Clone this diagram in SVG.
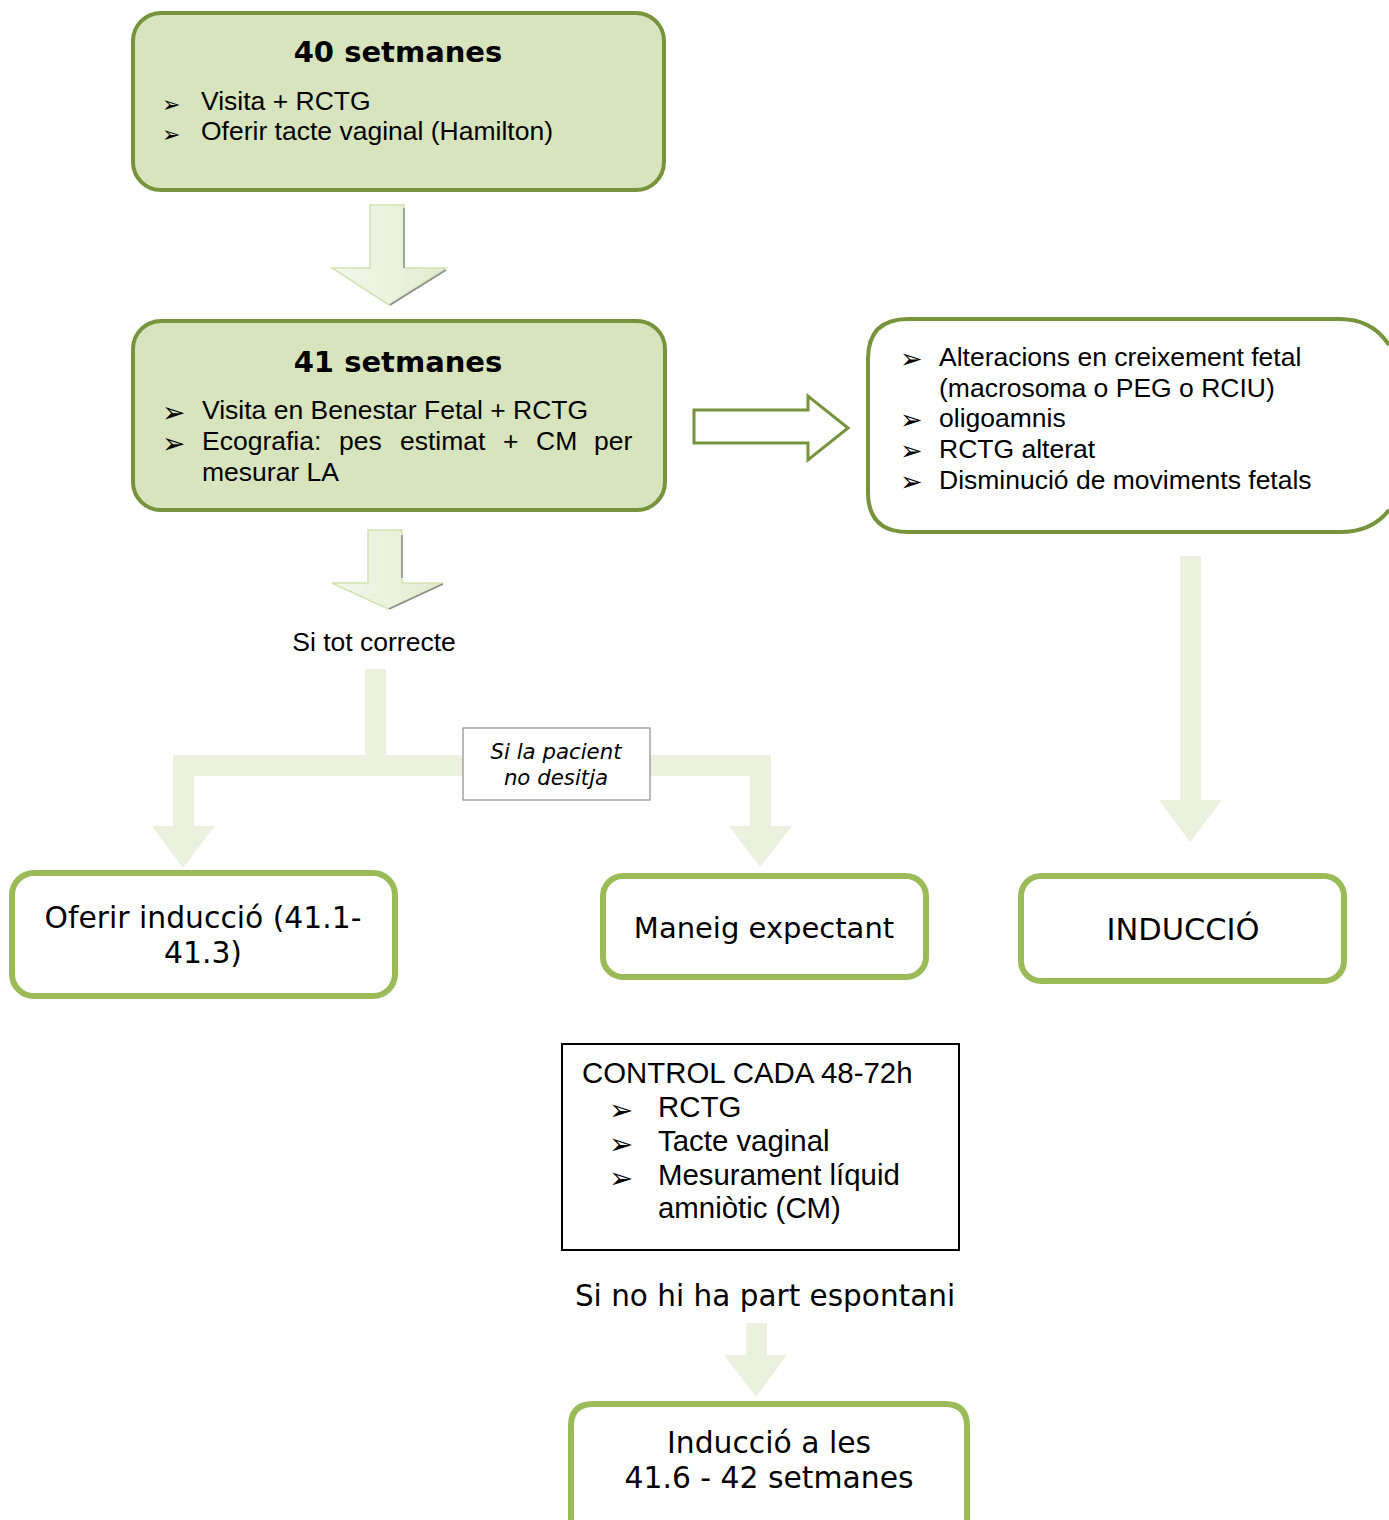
<svg xmlns="http://www.w3.org/2000/svg" width="1389" height="1520" viewBox="0 0 1389 1520">
<defs>
<linearGradient id="ag" x1="0" y1="0" x2="1" y2="0">
<stop offset="0" stop-color="#F4F8EC"/>
<stop offset="1" stop-color="#E2EBCF"/>
</linearGradient>
</defs>
<style>
.g1{fill:#D7E4BD;stroke:#77933C;stroke-width:4}
.g2{fill:#FFFFFF;stroke:#77933C;stroke-width:4}
.g3{fill:#FFFFFF;stroke:#9BBB59;stroke-width:6}
.arr{fill:#EBF1DE;stroke:none}
.ver{font-family:"DejaVu Sans",Verdana,sans-serif;fill:#000}
.ari{font-family:"Liberation Sans",Arial,sans-serif;fill:#000}
.bul{font-family:"DejaVu Sans",sans-serif;fill:#000}
</style>
<rect width="1389" height="1520" fill="#FFFFFF"/>

<g id="connectors">
  <path d="M370,205 L404,205 L404,268 L446,268 L389,305 L332,268 L370,268 Z" fill="url(#ag)" stroke="#D3E2B4" stroke-width="1.5"/>
  <path d="M404,208 L404,268 M446,270 L390,305" fill="none" stroke="#8C8C8C" stroke-width="1.5"/>
  <path d="M368,530 L402,530 L402,583 L443,583 L388,609 L332,583 L368,583 Z" fill="url(#ag)" stroke="#D3E2B4" stroke-width="1.5"/>
  <path d="M402,535 L402,578 M443,584 L389,609" fill="none" stroke="#8C8C8C" stroke-width="1.5"/>
  <path d="M694,410 L808,410 L808,396 L848,428 L808,460 L808,443 L694,443 Z" fill="#FFFFFF" stroke="#77933C" stroke-width="3"/>
  <path d="M1180,556 L1201,556 L1201,800 L1222,800 L1190,842 L1159,800 L1180,800 Z" class="arr"/>
  <path d="M365,669 L386,669 L386,755 L771,755 L771,826 L792,826 L760,867 L729,826 L750,826 L750,776 L194,776 L194,826 L215,826 L183,868 L152,826 L173,826 L173,755 L365,755 Z" class="arr"/>
  <path d="M746,1323 L767,1323 L767,1355 L787,1355 L756,1397 L724,1355 L746,1355 Z" class="arr"/>
</g>

<g id="n40">
  <rect x="133" y="13" width="531" height="177" rx="28" class="g1"/>
  <text x="398" y="62" class="ver" font-size="29" font-weight="bold" text-anchor="middle">40 setmanes</text>
  <text x="162" y="112" class="bul" font-size="22">➢</text>
  <text x="201" y="110" class="ari" font-size="26.5">Visita + RCTG</text>
  <text x="162" y="142" class="bul" font-size="22">➢</text>
  <text x="201" y="140" class="ari" font-size="26.5">Oferir tacte vaginal (Hamilton)</text>
</g>

<g id="n41">
  <rect x="133" y="321" width="532" height="189" rx="28" class="g1"/>
  <text x="398" y="372" class="ver" font-size="29" font-weight="bold" text-anchor="middle">41 setmanes</text>
  <text x="162" y="422" class="bul" font-size="28">➢</text>
  <text x="202" y="419" class="ari" font-size="26.5">Visita en Benestar Fetal + RCTG</text>
  <text x="162" y="453" class="bul" font-size="28">➢</text>
  <text y="450" class="ari" font-size="26.5"><tspan x="202">Ecografia:</tspan><tspan x="339">pes</tspan><tspan x="400">estimat</tspan><tspan x="503">+</tspan><tspan x="536">CM</tspan><tspan x="594">per</tspan></text>
  <text x="202" y="481" class="ari" font-size="26.5">mesurar LA</text>
</g>

<g id="nAlter">
  <path d="M1389,345 Q1372,319 1340,319 L908,319 Q868,319 868,359 L868,492 Q868,532 908,532 L1340,532 Q1372,532 1389,510" class="g2"/>
  <text x="900" y="368" class="bul" font-size="27">➢</text>
  <text x="939" y="366" class="ari" font-size="26.5">Alteracions en creixement fetal</text>
  <text x="939" y="397" class="ari" font-size="26.5">(macrosoma o PEG o RCIU)</text>
  <text x="900" y="429" class="bul" font-size="27">➢</text>
  <text x="939" y="427" class="ari" font-size="26.5">oligoamnis</text>
  <text x="900" y="460" class="bul" font-size="27">➢</text>
  <text x="939" y="458" class="ari" font-size="26.5">RCTG alterat</text>
  <text x="900" y="491" class="bul" font-size="27">➢</text>
  <text x="939" y="489" class="ari" font-size="26.5">Disminució de moviments fetals</text>
</g>

<g id="lblCorrecte">
  <text x="374" y="651" class="ari" font-size="26.5" text-anchor="middle">Si tot correcte</text>
</g>

<g id="lblPacient">
  <rect x="463" y="728" width="187" height="72" fill="#FFFFFF" stroke="#8C8C8C" stroke-width="1.2"/>
  <text x="556" y="759" class="ver" font-size="21.3" font-style="italic" text-anchor="middle">Si la pacient</text>
  <text x="556" y="785" class="ver" font-size="21.3" font-style="italic" text-anchor="middle">no desitja</text>
</g>

<g id="nOferir">
  <rect x="12" y="873" width="383" height="123" rx="22" class="g3"/>
  <text x="203" y="928" class="ver" font-size="29.8" text-anchor="middle">Oferir inducció (41.1-</text>
  <text x="203" y="963" class="ver" font-size="29.8" text-anchor="middle">41.3)</text>
</g>

<g id="nManeig">
  <rect x="603" y="876" width="323" height="101" rx="20" class="g3"/>
  <text x="764" y="938" class="ver" font-size="29" text-anchor="middle">Maneig expectant</text>
</g>

<g id="nInduccio">
  <rect x="1021" y="876" width="323" height="105" rx="20" class="g3"/>
  <text x="1183" y="940" class="ver" font-size="30.5" text-anchor="middle">INDUCCIÓ</text>
</g>

<g id="nControl">
  <rect x="562" y="1044" width="397" height="206" fill="#FFFFFF" stroke="#000" stroke-width="2"/>
  <text x="582" y="1083" class="ari" font-size="29.4">CONTROL CADA 48-72h</text>
  <text x="609" y="1120" class="bul" font-size="29">➢</text>
  <text x="658" y="1117" class="ari" font-size="29.4">RCTG</text>
  <text x="609" y="1154" class="bul" font-size="29">➢</text>
  <text x="658" y="1151" class="ari" font-size="29.4">Tacte vaginal</text>
  <text x="609" y="1188" class="bul" font-size="29">➢</text>
  <text x="658" y="1185" class="ari" font-size="29.4">Mesurament líquid</text>
  <text x="658" y="1218" class="ari" font-size="29.4">amniòtic (CM)</text>
</g>

<g id="lblEspontani">
  <text x="765" y="1306" class="ver" font-size="29.5" text-anchor="middle">Si no hi ha part espontani</text>
</g>

<g id="nFinal">
  <path d="M571,1520 L571,1426 Q571,1404 593,1404 L945,1404 Q967,1404 967,1426 L967,1520" class="g3"/>
  <text x="769" y="1453" class="ver" font-size="29.8" text-anchor="middle">Inducció a les</text>
  <text x="769" y="1488" class="ver" font-size="29.8" text-anchor="middle">41.6 - 42 setmanes</text>
</g>
</svg>
